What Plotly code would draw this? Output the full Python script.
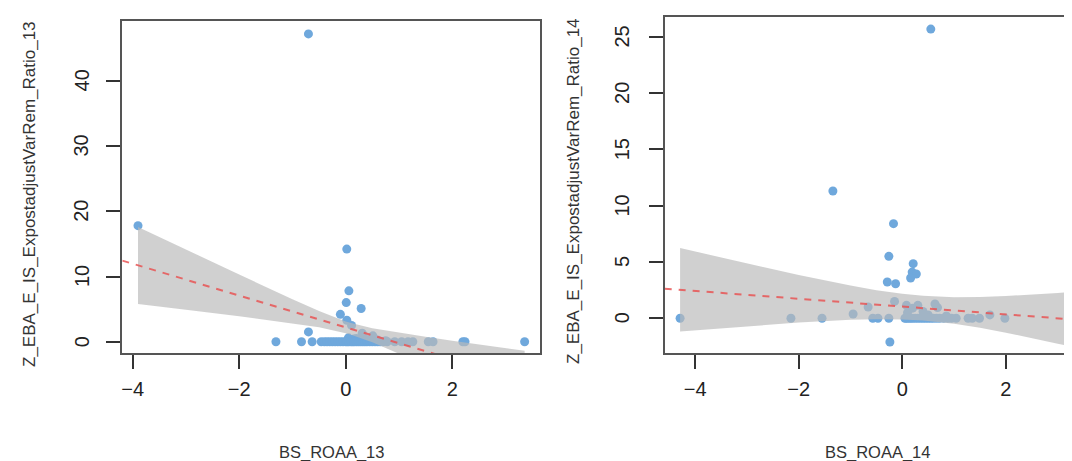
import plotly.graph_objects as go

# ---------------- data ----------------
# Left panel: BS_ROAA_13 vs Z_EBA_E_IS_ExpostadjustVarRem_Ratio_13
x13 = [-0.70, -3.90, 0.02, 0.06, 0.01, 0.29, -0.10, 0.02, 0.11, -0.70, 0.31, 0.51,
       0.05, 0.15, 0.20, 0.35, 0.40, 0.60, 0.75,
       -1.31, -0.83, -0.63, -0.46, -0.40, -0.35, -0.30, -0.25, -0.20, -0.15, -0.10,
       -0.05, 0.00, 0.03, 0.06, 0.10, 0.13, 0.16, 0.20, 0.24, 0.28, 0.32, 0.36,
       0.40, 0.45, 0.50, 0.55, 0.60, 0.65, 0.70, 0.78, 0.92, 1.05, 1.17, 1.26,
       1.55, 1.64, 2.20, 2.24, 3.36]
y13 = [47.2, 17.8, 14.2, 7.8, 6.0, 5.1, 4.2, 3.3, 2.5, 1.5, 1.3, 0.9,
       0.6, 0.4, 0.5, 0.5, 0.3, 0.25, 0.15,
       0, 0, 0, 0, 0, 0, 0, 0, 0, 0, 0,
       0, 0, 0, 0, 0, 0, 0, 0, 0, 0, 0, 0,
       0, 0, 0, 0, 0, 0, 0, 0, 0, 0, 0, 0,
       0, 0, 0, 0, 0]
fit13_intercept = 2.2
fit13_slope = -2.44
band13_x = [-3.90, -3.0, -2.0, -1.0, -0.5, 0.0, 0.1, 0.5, 1.0, 1.5, 2.0, 2.5, 3.0, 3.36]
band13_upper = [17.6, 14.1, 10.3, 6.5, 4.7, 3.1, 2.86, 2.06, 1.36, 0.75, 0.15, -0.4, -0.95, -1.4]
band13_lower = [5.8, 4.9, 3.9, 2.8, 2.2, 1.3, 1.06, -0.1, -1.84, -3.7, -5.6, -7.5, -9.5, -10.9]

# Right panel: BS_ROAA_14 vs Z_EBA_E_IS_ExpostadjustVarRem_Ratio_14
x14 = [0.55, -1.34, -0.17, -0.26, 0.21, 0.19, 0.27, 0.16, -0.29, -0.13, -0.15, 0.08,
       0.30, 0.63, 0.68, -0.66, -0.95, 1.69, -0.24, 0.10, 0.40, 0.50, 0.85, 0.20,
       -4.29, -2.15, -1.55, -0.57, -0.47, -0.26, 0.05, 0.08, 0.12, 0.16, 0.20,
       0.25, 0.30, 0.35, 0.40, 0.45, 0.50, 0.55, 0.60, 0.66, 0.72, 0.80, 0.88,
       0.95, 1.04, 1.27, 1.35, 1.49, 1.98, 3.31]
y14 = [25.67, 11.3, 8.4, 5.5, 4.85, 4.1, 3.93, 3.58, 3.22, 3.07, 1.5, 1.15,
       1.15, 1.27, 0.95, 1.0, 0.38, 0.3, -2.1, 0.5, 0.6, 0.3, 0.2, 0.9,
       0, 0, 0, 0, 0, 0, 0, 0, 0, 0, 0,
       0, 0, 0, 0, 0, 0, 0, 0, 0, 0, 0, 0,
       0, 0, 0, 0, 0, 0, 0]
fit14_intercept = 1.04
fit14_slope = -0.347
band14_x = [-4.29, -3.0, -2.0, -1.0, -0.5, 0.0, 0.4, 1.0, 1.5, 2.0, 2.5, 3.0, 3.31]
band14_upper = [6.23, 4.87, 3.84, 2.91, 2.50, 2.18, 2.0, 1.87, 1.89, 1.98, 2.09, 2.25, 2.34]
band14_lower = [-1.17, -0.71, -0.38, -0.13, -0.08, -0.10, -0.19, -0.49, -0.85, -1.28, -1.75, -2.25, -2.56]

xticks = [-4, -2, 0, 2]
yticks13 = [0, 10, 20, 30, 40]
yticks14 = [0, 5, 10, 15, 20, 25]
xrange13 = [-4.195, 3.654]
yrange13 = [-1.73, 49.23]
xrange14 = [-4.587, 3.43]
yrange14 = [-3.08, 26.74]

# ---------------- styling ----------------
W, H = 1072, 461
PT_COLOR = "#6FA8DC"
BAND = "rgba(185,185,185,0.68)"
LINE = "rgba(232,85,85,0.85)"
FONT = "Liberation Sans, Arial, sans-serif"

fig = go.Figure()


def add_panel(xs, ys, a, b, bx, bu, bl, xr, xa, ya):
    fig.add_trace(go.Scatter(x=xs, y=ys, mode="markers", xaxis=xa, yaxis=ya,
                             marker=dict(size=9, color=PT_COLOR, line=dict(width=0)),
                             showlegend=False, hoverinfo="skip"))
    fig.add_trace(go.Scatter(x=bx + bx[::-1], y=bu + bl[::-1], mode="lines",
                             fill="toself", fillcolor=BAND, line=dict(width=0),
                             xaxis=xa, yaxis=ya, showlegend=False, hoverinfo="skip"))
    lx = [xr[0], xr[1]]
    ly = [a + b * v for v in lx]
    fig.add_trace(go.Scatter(x=lx, y=ly, mode="lines", xaxis=xa, yaxis=ya,
                             line=dict(color=LINE, width=2, dash="7px,7px"),
                             showlegend=False, hoverinfo="skip"))


add_panel(x13, y13, fit13_intercept, fit13_slope, band13_x, band13_upper, band13_lower,
          xrange13, "x", "y")
add_panel(x14, y14, fit14_intercept, fit14_slope, band14_x, band14_upper, band14_lower,
          xrange14, "x2", "y2")

tickfont = dict(family=FONT, size=20, color="#222")
common_x = dict(showgrid=False, zeroline=False, showline=True, linecolor="#555", linewidth=2,
                ticks="outside", ticklen=14, tickwidth=2, tickcolor="#333",
                tickfont=tickfont, ticklabelstandoff=3)
# y tick labels are drawn rotated (R style) as annotations below
common_y = dict(showgrid=False, zeroline=False, showline=True, linecolor="#555", linewidth=2,
                ticks="outside", ticklen=14, tickwidth=2, tickcolor="#333",
                showticklabels=False)

fig.update_layout(
    width=W, height=H, margin=dict(l=0, r=0, t=0, b=0),
    paper_bgcolor="white", plot_bgcolor="white",
    xaxis=dict(domain=[114.3 / W, 532.3 / W], range=xrange13, tickvals=xticks,
               anchor="y", mirror=True, **common_x),
    yaxis=dict(domain=[(H - 345) / H, (H - 12.7) / H], range=yrange13, tickvals=yticks13,
               anchor="x", mirror=True, **common_y),
    xaxis2=dict(domain=[656.7 / W, 1.0], range=xrange14, tickvals=xticks,
                anchor="y2", mirror=True, **common_x),
    yaxis2=dict(domain=[(H - 345) / H, (H - 9) / H], range=yrange14, tickvals=yticks14,
                anchor="x2", mirror=False, **common_y),
)

# rotated y tick labels
for v in yticks13:
    fig.add_annotation(xref="paper", yref="y", x=73.5 / W, y=v, text=str(v),
                       textangle=-90, showarrow=False, font=tickfont,
                       xanchor="center", yanchor="middle")
for v in yticks14:
    fig.add_annotation(xref="paper", yref="y2", x=614 / W, y=v, text=str(v),
                       textangle=-90, showarrow=False, font=tickfont,
                       xanchor="center", yanchor="middle")

xfont = dict(family=FONT, size=16.5, color="#333")
yfont = dict(family=FONT, size=17, color="#333")
ann = [
    dict(text="BS_ROAA_13", x=323.3 / W, y=(H - 444) / H, font=xfont),
    dict(text="BS_ROAA_14", x=869 / W, y=(H - 444) / H, font=xfont),
    dict(text="Z_EBA_E_IS_ExpostadjustVarRem_Ratio_13", x=21 / W, y=(H - 186) / H,
         textangle=-90, font=yfont),
    dict(text="Z_EBA_E_IS_ExpostadjustVarRem_Ratio_14", x=565 / W, y=(H - 183) / H,
         textangle=-90, font=yfont),
]
for a in ann:
    fig.add_annotation(xref="paper", yref="paper", showarrow=False,
                       xanchor="center", yanchor="middle", **a)

fig.write_html("out.html")
